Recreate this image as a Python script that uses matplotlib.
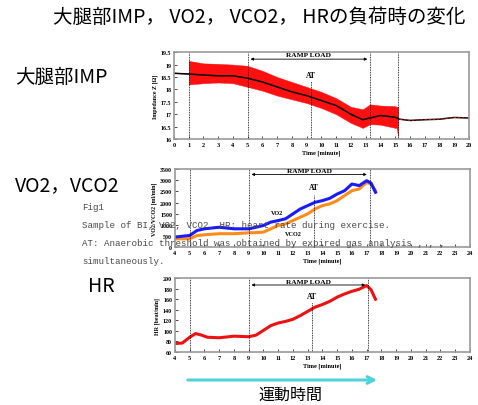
import matplotlib
matplotlib.use("Agg")
import matplotlib.pyplot as plt

# thigh impedance (smoothed curve + envelope of raw signal)
imp_t = [0, 1, 2, 3, 4, 5, 6, 7, 8, 9, 10, 11, 12, 12.8, 13.3, 14, 15, 15.3, 16, 17, 18, 19, 20]
imp_z = [18.65, 18.62, 18.58, 18.55, 18.55, 18.45, 18.3, 18.1, 17.9, 17.75, 17.55, 17.35, 17.0,
         16.78, 16.85, 16.95, 16.88, 16.8, 16.75, 16.78, 16.8, 16.87, 16.85]
band_t = [1, 2, 3, 4, 5, 6, 7, 8, 9, 10, 11, 12, 12.8, 13.3, 14, 15, 15.1, 15.2]
band_hi = [19.15, 19.05, 19.03, 19.0, 18.95, 18.75, 18.5, 18.3, 18.1, 17.9, 17.65, 17.3, 17.2,
           17.4, 17.35, 17.33, 17.3, 17.3]
band_lo = [18.2, 18.25, 18.28, 18.25, 18.1, 17.95, 17.75, 17.6, 17.45, 17.25, 17.0, 16.65, 16.45,
           16.6, 16.58, 16.45, 16.45, 16.1]

# expired gas
gas_t = [4, 5, 5.5, 6, 7, 8, 9, 9.5, 10, 10.5, 11, 11.5, 12, 12.5, 13, 13.5, 14, 14.5, 15, 15.5,
         16, 16.5, 17, 17.3, 17.6]
vo2 = [450, 520, 745, 820, 890, 820, 820, 890, 970, 1120, 1190, 1270, 1490, 1710, 1860, 2010,
       2085, 2190, 2380, 2530, 2830, 2760, 2980, 2870, 2460]
vco2 = [370, 370, 520, 550, 600, 600, 640, 650, 670, 820, 970, 1040, 1190, 1340, 1490, 1710,
        1860, 1940, 2085, 2310, 2530, 2610, 2900, 2830, 2530]

# heart rate
hr_t = [4, 4.5, 5, 5.4, 5.8, 6.2, 7, 8, 9, 9.5, 10, 10.5, 11, 11.5, 12, 12.5, 13, 13.5, 14, 14.5,
        15, 15.5, 16, 16.5, 17, 17.3, 17.6]
hr = [76, 77, 88, 95, 92, 88, 87, 90, 89, 92, 101, 110, 115, 118, 122, 129, 137, 145, 150, 156,
      164, 170, 175, 179, 186, 178, 160]

cjk = ['Noto Sans CJK JP', 'DejaVu Sans']
serif = 'Liberation Serif'

fig = plt.figure(figsize=(4.78, 4.06), dpi=100)


def style_axes(ax, xlim, xticks, ylim, yticks, ylab, ylab_fmt=str):
    ax.set_xlim(*xlim)
    ax.set_ylim(*ylim)
    ax.set_xticks(xticks)
    ax.set_yticks(yticks)
    ax.set_xticklabels([str(v) for v in xticks], fontsize=4.5, fontweight='bold', family=serif)
    ax.set_yticklabels([ylab_fmt(v) for v in yticks], fontsize=4.3, fontweight='bold', family=serif)
    ax.tick_params(direction='in', length=2, width=0.5, pad=2)
    for s in ax.spines.values():
        s.set_color('#9a9a9a')
        s.set_linewidth(1.2)
    ax.set_xlabel('Time [minute]', fontsize=4.5, fontweight='bold', family=serif, labelpad=2)
    ax.set_ylabel(ylab, fontsize=4.3, fontweight='bold', family=serif, labelpad=2)


def events(ax, lines, at, at_top, ramp, ramp_y, text_y, at_text_y):
    for x in lines:
        ax.axvline(x, color='black', ls=(0, (1, 1)), lw=0.6)
    ax.plot([at, at], [ax.get_ylim()[0], at_top], color='black', ls=(0, (1, 1)), lw=0.6)
    ax.text(at, at_text_y, 'AT', fontsize=5.5, fontweight='bold', family=serif, ha='center', va='bottom')
    ax.annotate('', xy=(ramp[0], ramp_y), xytext=(ramp[1], ramp_y),
                arrowprops=dict(arrowstyle='<|-|>', color='black', lw=0.6,
                                mutation_scale=4))
    ax.text((ramp[0] + ramp[1]) / 2, text_y, 'RAMP LOAD', fontsize=5.3, fontweight='bold',
            family=serif, ha='center', va='bottom')


# impedance panel
ax1 = fig.add_axes([0.364, 0.655, 0.617, 0.214])
ax1.fill_between(band_t, band_lo, band_hi, color='#ff1010', lw=0.3, edgecolor='#ff1010')
ax1.plot(imp_t[:2], imp_z[:2], color='#e03030', lw=0.8)
ax1.plot(imp_t, imp_z, color='black', lw=1.1)
ax1.plot(imp_t[17:], imp_z[17:], color='#cc2020', lw=0.6, ls=(0, (3, 2)))
style_axes(ax1, (0, 20), list(range(0, 21)), (16, 19.5),
           [16, 16.5, 17, 17.5, 18, 18.5, 19, 19.5], 'Impedance Z [Ω]', lambda v: f'{v:g}')
events(ax1, [1, 5, 13.3, 15.2], 9.3, 18.35, (5, 13.3), 19.22, 19.3, 18.42)

# gas panel
ax2 = fig.add_axes([0.366, 0.389, 0.617, 0.192])
ax2.plot(gas_t, vco2, color='#ff8c1a', lw=2.2)
ax2.plot(gas_t, vo2, color='#1a1aff', lw=2.2)
ax2.text(10.9, 1480, 'VO2', fontsize=4.5, fontweight='bold', family=serif, ha='center')
ax2.text(12.0, 520, 'VCO2', fontsize=4.5, fontweight='bold', family=serif, ha='center')
style_axes(ax2, (4, 24), list(range(4, 25)), (0, 3500),
           list(range(0, 3501, 500)), 'VO2/VCO2 [ml/min]')
events(ax2, [5, 9, 17.2], 13.4, 2350, (9, 17.2), 3260, 3330, 2500)

# heart rate panel
ax3 = fig.add_axes([0.366, 0.1305, 0.617, 0.182])
ax3.plot(hr_t, hr, color='#ee1111', lw=2.2)
style_axes(ax3, (4, 24), list(range(4, 25)), (60, 200),
           list(range(60, 201, 20)), 'HR [beat/min]')
events(ax3, [5, 9, 17.1], 13.3, 155, (9, 17.1), 187, 189, 158)

# titles and side labels
fig.text(0.543, 0.958, '大腿部IMP， VO2， VCO2， HRの負荷時の変化', family=cjk, fontsize=14,
         ha='center', va='center')
fig.text(0.032, 0.808, '大腿部IMP', family=cjk, fontsize=14, ha='left', va='center')
fig.text(0.032, 0.542, 'VO2，VCO2', family=cjk, fontsize=14, ha='left', va='center')
fig.text(0.184, 0.295, 'HR', family=cjk, fontsize=14, ha='left', va='center')

# caption text laid over the middle panel
caption = ['Fig1',
           'Sample of BI, VO2, VCO2, HR: heart rate during exercise.',
           'AT: Anaerobic threshold was obtained by expired gas analysis , , ,',
           'simultaneously.']
for i, line in enumerate(caption):
    fig.text(0.172, 1 - (208 + i * 17.7) / 406, line, family='Liberation Mono', fontsize=6.6,
             color='#4a4a4a', ha='left', va='center')

# time arrow
fig.patches.append(matplotlib.patches.FancyArrowPatch(
    (185 / 478, 1 - 381 / 406), (380 / 478, 1 - 381 / 406), transform=fig.transFigure,
    arrowstyle='->', mutation_scale=12, color='#4fd3da', lw=2.2))
fig.text(0.607, 0.027, '運動時間', family=cjk, fontsize=11.5, ha='center', va='center')

fig.savefig('out.png', dpi=100)
